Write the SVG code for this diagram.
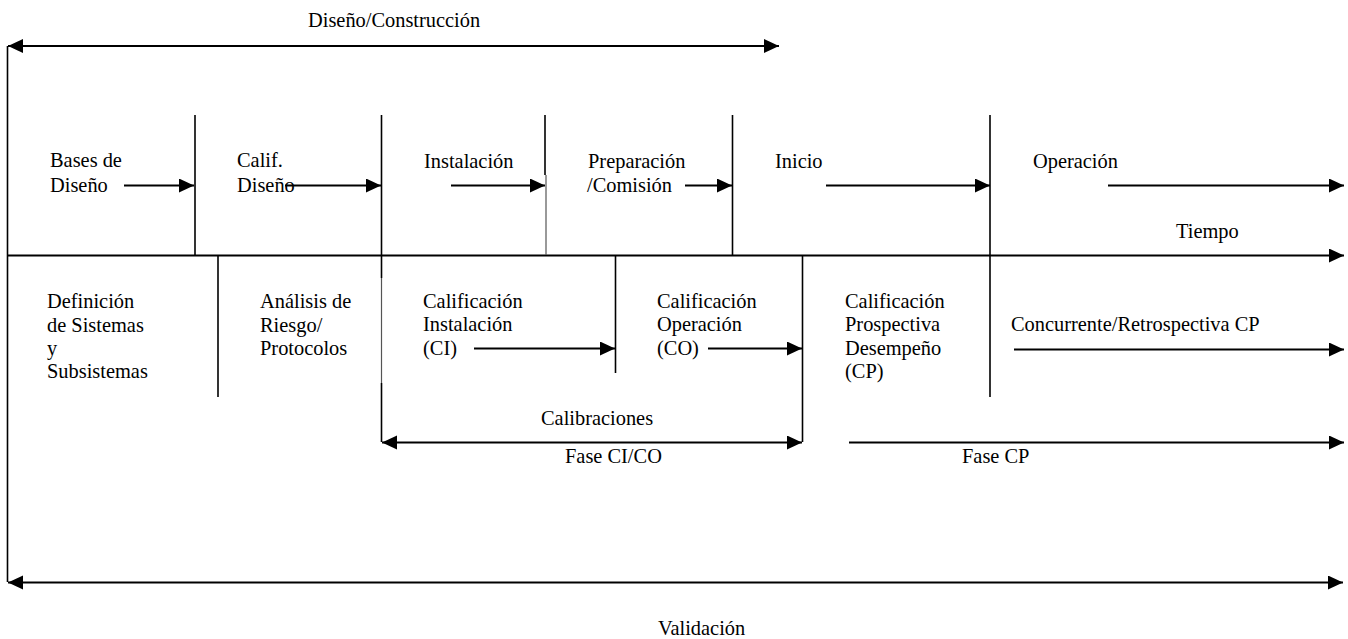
<svg xmlns="http://www.w3.org/2000/svg" width="1348" height="639" viewBox="0 0 1348 639">
<defs>
<marker id="ah" markerUnits="userSpaceOnUse" markerWidth="16" markerHeight="15" refX="15" refY="7" orient="auto-start-reverse" viewBox="0 0 16 15">
<path d="M0,0 L15,7 L0,14 z" fill="#000"/>
</marker>
<style>
.v{stroke:#000;stroke-width:1.6;fill:none}
.vl{stroke:#555;stroke-width:1.2;fill:none}
.a{stroke:#000;stroke-width:2;fill:none;marker-end:url(#ah)}
.d{stroke:#000;stroke-width:2;fill:none;marker-start:url(#ah);marker-end:url(#ah)}
</style>
</defs>
<rect width="1348" height="639" fill="#fff"/>

<g id="connectors">
<line class="d" x1="8" y1="46" x2="779" y2="46"/>
<line class="v" x1="7.5" y1="46" x2="7.5" y2="582"/>
<line class="d" x1="8" y1="582.5" x2="1343" y2="582.5"/>
<line class="a" x1="8" y1="255.5" x2="1344" y2="255.5"/>
<line class="v" x1="195" y1="115" x2="195" y2="255"/>
<line class="v" x1="381.5" y1="115" x2="381.5" y2="278"/>
<line class="vl" x1="381.5" y1="278" x2="381.5" y2="383"/>
<line class="v" x1="381.5" y1="383" x2="381.5" y2="442"/>
<line class="v" x1="545" y1="115" x2="545" y2="175"/>
<line class="vl" x1="546" y1="175" x2="546" y2="255"/>
<line class="v" x1="732.5" y1="115" x2="732.5" y2="255"/>
<line class="v" x1="990" y1="115" x2="990" y2="397"/>
<line class="v" x1="218" y1="256" x2="218" y2="397"/>
<line class="v" x1="615.5" y1="256" x2="615.5" y2="373"/>
<line class="v" x1="802.5" y1="256" x2="802.5" y2="442"/>
<line class="a" x1="124" y1="185.5" x2="194" y2="185.5"/>
<line class="a" x1="285" y1="185.5" x2="381" y2="185.5"/>
<line class="a" x1="451" y1="185.5" x2="545" y2="185.5"/>
<line class="a" x1="685" y1="185.5" x2="732" y2="185.5"/>
<line class="a" x1="826" y1="185.5" x2="990" y2="185.5"/>
<line class="a" x1="1108" y1="185.5" x2="1344" y2="185.5"/>
<line class="a" x1="474" y1="348.5" x2="615" y2="348.5"/>
<line class="a" x1="708" y1="348.5" x2="802" y2="348.5"/>
<line class="a" x1="1014" y1="349.5" x2="1344" y2="349.5"/>
<line class="d" x1="382" y1="442.5" x2="802" y2="442.5"/>
<line class="a" x1="849" y1="442.5" x2="1344" y2="442.5"/>
</g>

<g font-family="'Liberation Serif', 'DejaVu Serif', serif" font-size="20.4" fill="#000">
<g id="label-diseno-construccion"><text x="308" y="27">Diseño/Construcción</text></g>
<g id="label-validacion"><text x="658" y="635">Validación</text></g>
<g id="label-tiempo"><text x="1176" y="238">Tiempo</text></g>

<g id="node-bases"><text x="50" y="167">Bases de</text><text x="50" y="192">Diseño</text></g>
<g id="node-calif-diseno"><text x="237" y="167">Calif.</text><text x="237" y="192">Diseño</text></g>
<g id="node-instalacion"><text x="424" y="168">Instalación</text></g>
<g id="node-preparacion"><text x="588" y="168">Preparación</text><text x="587" y="192">/Comisión</text></g>
<g id="node-inicio"><text x="775" y="168">Inicio</text></g>
<g id="node-operacion"><text x="1033" y="168">Operación</text></g>

<g id="node-definicion"><text x="47" y="308">Definición</text><text x="47" y="332">de Sistemas</text><text x="47" y="355">y</text><text x="47" y="378">Subsistemas</text></g>
<g id="node-analisis"><text x="260" y="308">Análisis de</text><text x="260" y="332">Riesgo/</text><text x="260" y="355">Protocolos</text></g>
<g id="node-ci"><text x="423" y="308">Calificación</text><text x="423" y="331">Instalación</text><text x="423" y="355">(CI)</text></g>
<g id="node-co"><text x="657" y="308">Calificación</text><text x="657" y="331">Operación</text><text x="657" y="355">(CO)</text></g>
<g id="node-cp"><text x="845" y="308">Calificación</text><text x="845" y="331">Prospectiva</text><text x="845" y="355">Desempeño</text><text x="845" y="378">(CP)</text></g>
<g id="node-concurrente"><text x="1011" y="331">Concurrente/Retrospectiva CP</text></g>
<g id="label-calibraciones"><text x="541" y="425">Calibraciones</text></g>
<g id="label-fase-cico"><text x="565" y="463">Fase CI/CO</text></g>
<g id="label-fase-cp"><text x="962" y="463">Fase CP</text></g>
</g>
</svg>
